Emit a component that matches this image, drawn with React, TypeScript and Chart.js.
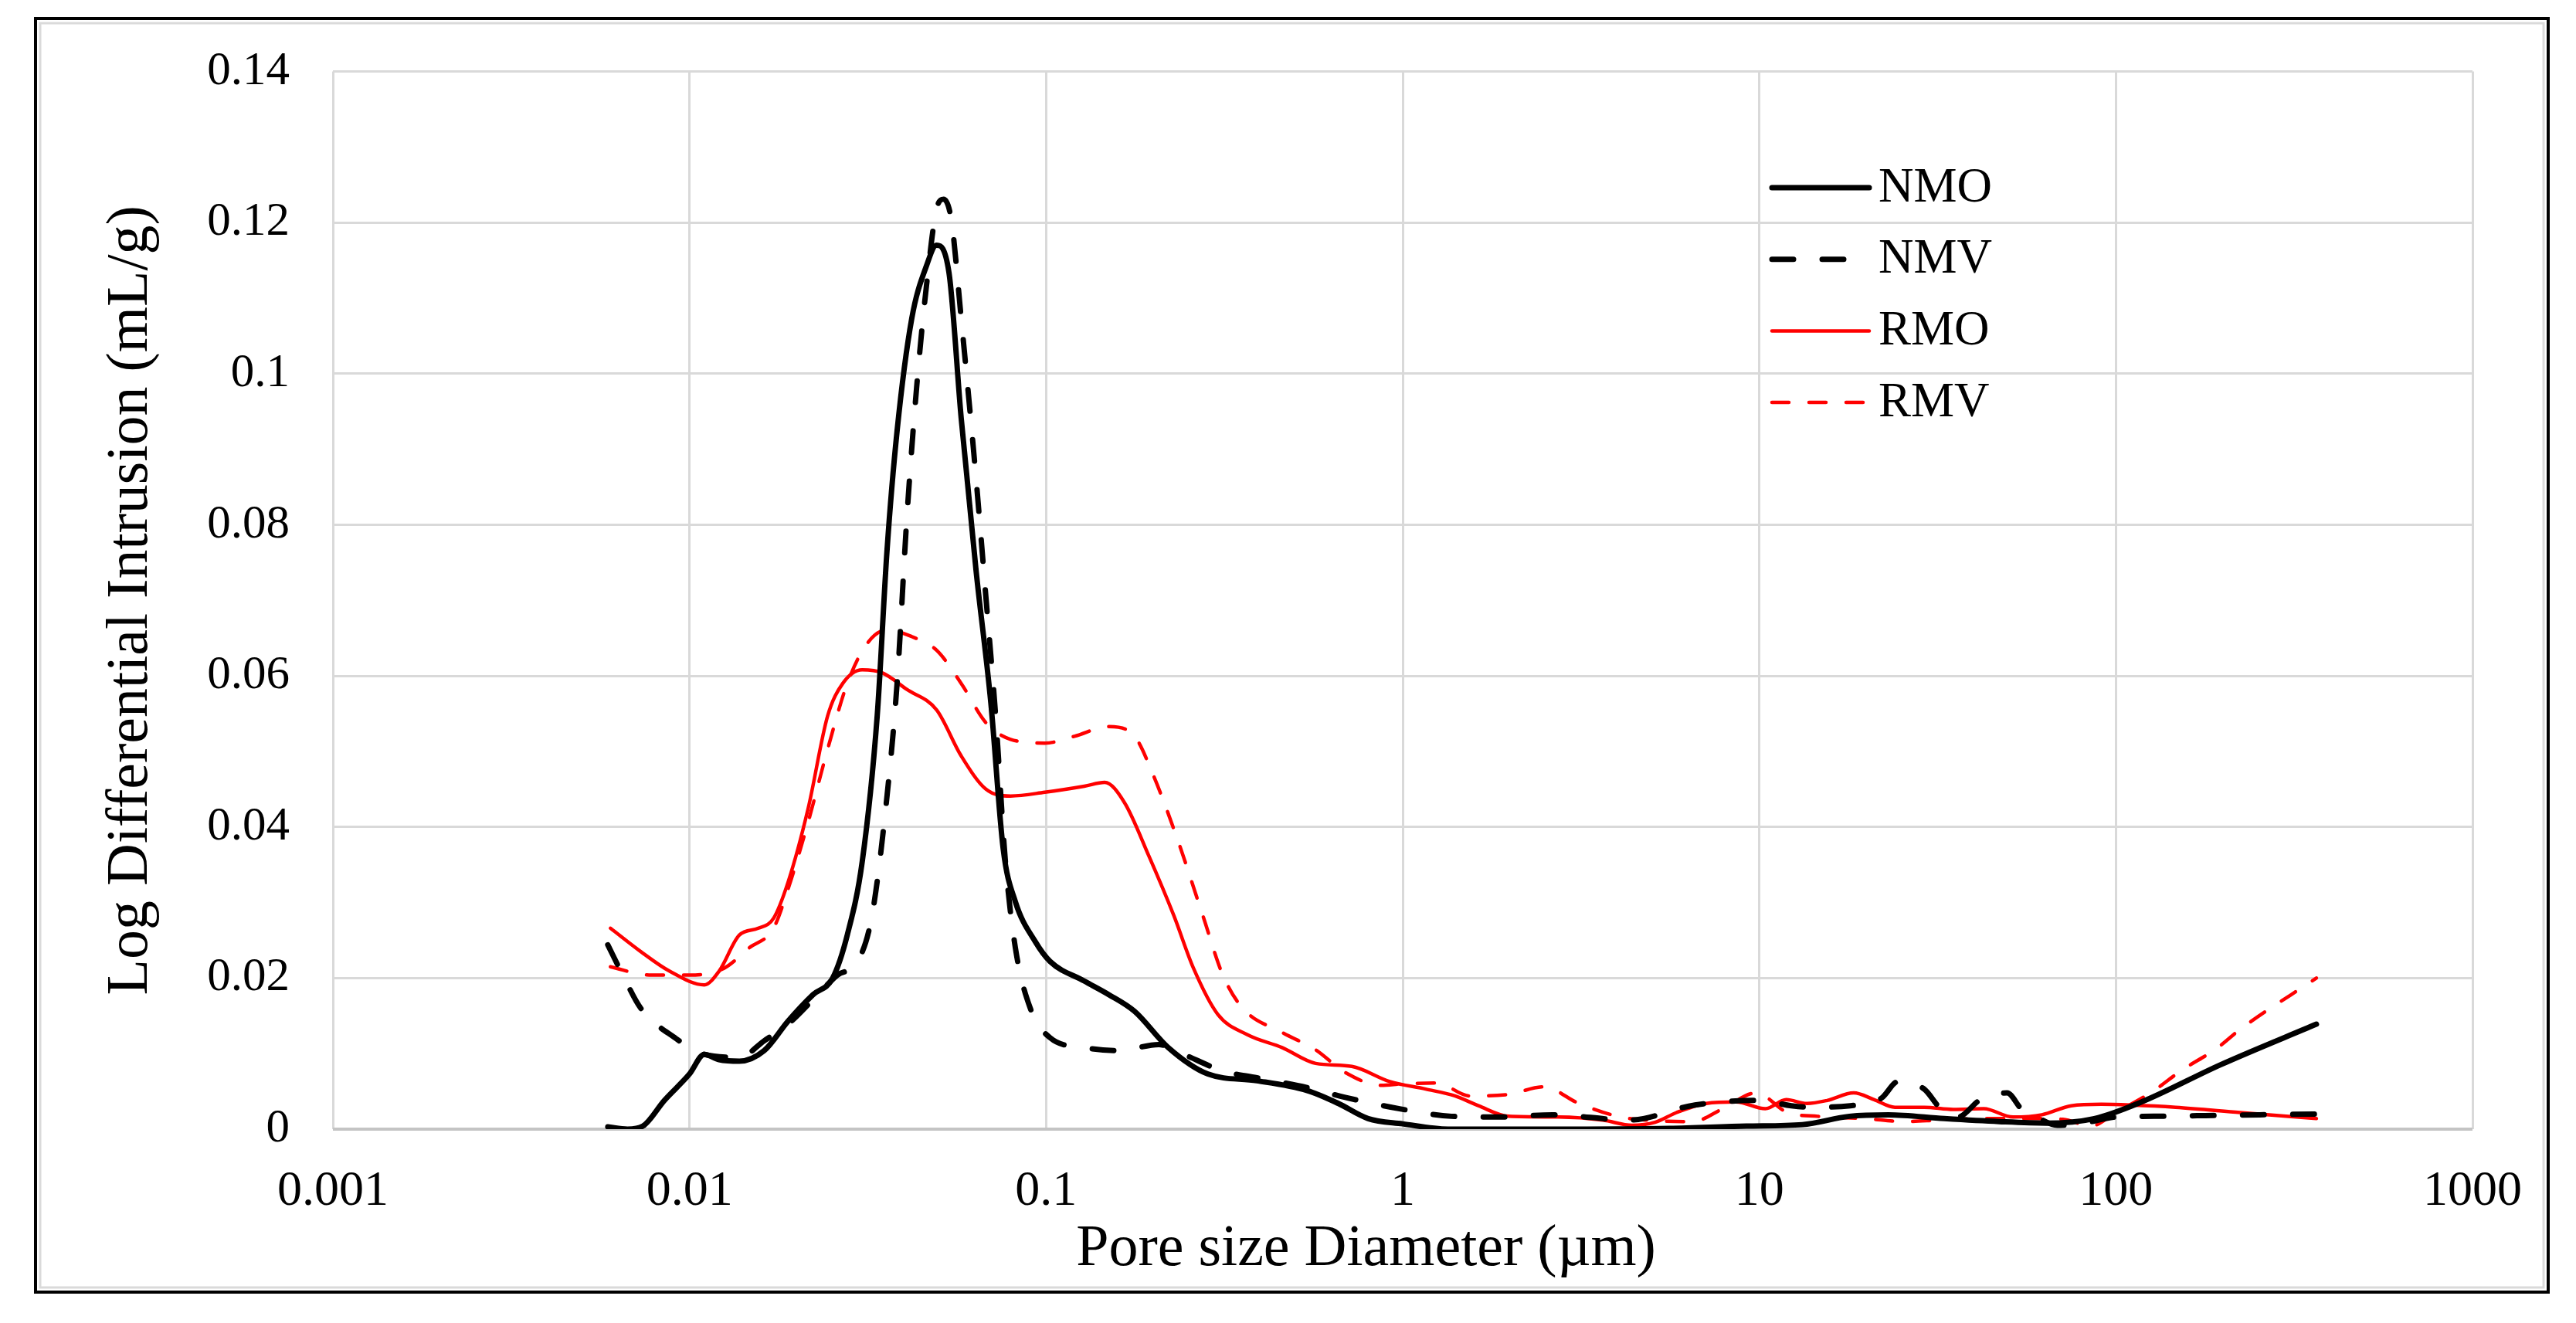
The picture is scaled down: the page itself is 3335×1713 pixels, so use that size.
import { useEffect, useRef } from "react";
import { Chart, registerables } from "chart.js";

Chart.register(...registerables);

// Pore size diameter (µm) and log differential intrusion (mL/g)
const nmoX = [0.0059, 0.0067, 0.0074, 0.0085, 0.01, 0.011, 0.0121, 0.0138, 0.0162, 0.0189, 0.0222, 0.0252, 0.0277, 0.0305, 0.0336, 0.0358, 0.0382, 0.042, 0.0462, 0.0493, 0.0534, 0.0578, 0.0636, 0.07, 0.0758, 0.082, 0.0933, 0.1026, 0.128, 0.15, 0.177, 0.22, 0.284, 0.39, 0.54, 0.66, 0.8, 1.0, 1.34, 2.6, 5.6, 9.2, 13.2, 17.9, 23, 33, 47, 64, 87, 118, 196, 365];
const nmoY = [0.0003, 0.0, 0.0004, 0.0038, 0.0073, 0.0099, 0.0092, 0.009, 0.0104, 0.0143, 0.0178, 0.02, 0.0257, 0.0354, 0.0547, 0.0766, 0.0924, 0.1073, 0.1143, 0.117, 0.1134, 0.0941, 0.074, 0.0564, 0.0371, 0.0301, 0.0248, 0.0222, 0.0196, 0.0178, 0.0156, 0.0108, 0.0073, 0.0064, 0.0051, 0.0034, 0.0014, 0.0007, 0.0, 0.0, 0.0001, 0.0004, 0.0006, 0.0017, 0.0019, 0.0014, 0.001, 0.0008, 0.0014, 0.0036, 0.0085, 0.0139];

const nmvX = [0.0059, 0.0065, 0.0073, 0.0091, 0.011, 0.0138, 0.0162, 0.0189, 0.0229, 0.026, 0.0296, 0.0325, 0.0358, 0.0382, 0.0407, 0.0434, 0.0462, 0.0493, 0.0516, 0.0542, 0.0578, 0.0636, 0.0678, 0.0722, 0.0769, 0.082, 0.0903, 0.1026, 0.128, 0.16, 0.207, 0.243, 0.313, 0.39, 0.54, 0.69, 0.98, 1.37, 1.87, 2.63, 4.3, 6.6, 10, 12.3, 14, 18, 22, 24.5, 29, 32, 36, 41.7, 49.5, 54.5, 60, 68.5, 83, 100, 128, 178, 253, 365];
const nmvY = [0.0244, 0.0204, 0.016, 0.0121, 0.0099, 0.0095, 0.0117, 0.0139, 0.0178, 0.0204, 0.0222, 0.0283, 0.0441, 0.059, 0.081, 0.0985, 0.1117, 0.1218, 0.1231, 0.1204, 0.1073, 0.0862, 0.0704, 0.0547, 0.0354, 0.024, 0.016, 0.0121, 0.0108, 0.0104, 0.0112, 0.0099, 0.0077, 0.0068, 0.0055, 0.0042, 0.0027, 0.0017, 0.0016, 0.0019, 0.0012, 0.0032, 0.0038, 0.0031, 0.0029, 0.0031, 0.0041, 0.0063, 0.0053, 0.0029, 0.0016, 0.0039, 0.0048, 0.0026, 0.0016, 0.0005, 0.0009, 0.0016, 0.0017, 0.0018, 0.0019, 0.002];

const rmoX = [0.006, 0.0073, 0.0088, 0.011, 0.0121, 0.0138, 0.0156, 0.0172, 0.0189, 0.0215, 0.0244, 0.0269, 0.0305, 0.0347, 0.0407, 0.0493, 0.0578, 0.0678, 0.0795, 0.0992, 0.128, 0.146, 0.166, 0.194, 0.228, 0.259, 0.303, 0.367, 0.459, 0.57, 0.72, 0.92, 1.16, 1.4, 1.63, 1.98, 2.73, 3.64, 4.4, 5.1, 5.86, 7.1, 8.6, 10.4, 11.9, 13.6, 15.5, 18.4, 21, 24, 29, 35, 42.6, 51.5, 62, 75, 91, 110, 147, 223, 365];
const rmoY = [0.0266, 0.0235, 0.0209, 0.0191, 0.0209, 0.0257, 0.0266, 0.0279, 0.0327, 0.0424, 0.0547, 0.059, 0.0608, 0.0604, 0.0582, 0.0555, 0.0494, 0.045, 0.0441, 0.0446, 0.0454, 0.0459, 0.0432, 0.0362, 0.0283, 0.0213, 0.0152, 0.0125, 0.0108, 0.0087, 0.0083, 0.0063, 0.0053, 0.0044, 0.0031, 0.0017, 0.0016, 0.0012, 0.0005, 0.0009, 0.0022, 0.0034, 0.0036, 0.0027, 0.0039, 0.0034, 0.0038, 0.0048, 0.0039, 0.0029, 0.0029, 0.0026, 0.0027, 0.0016, 0.0019, 0.0031, 0.0033, 0.0032, 0.0029, 0.0022, 0.0014];

const rmvX = [0.006, 0.0077, 0.01, 0.0125, 0.0147, 0.0172, 0.0189, 0.0215, 0.0244, 0.0277, 0.0315, 0.0358, 0.042, 0.0493, 0.0578, 0.0678, 0.0795, 0.0992, 0.12, 0.15, 0.177, 0.2, 0.235, 0.275, 0.313, 0.356, 0.459, 0.57, 0.69, 0.87, 1.0, 1.25, 1.54, 1.98, 2.48, 3.12, 4.0, 4.8, 6.5, 7.9, 9.8, 12, 14.6, 19.8, 25.6, 32, 42.6, 56.6, 71, 85, 100, 126, 153, 192, 223, 365];
const rmvY = [0.0215, 0.0204, 0.0204, 0.0213, 0.024, 0.0266, 0.0318, 0.0406, 0.0503, 0.059, 0.0643, 0.0661, 0.0652, 0.0634, 0.059, 0.0538, 0.0516, 0.0511, 0.052, 0.0533, 0.052, 0.0468, 0.038, 0.0283, 0.0204, 0.016, 0.0128, 0.0105, 0.0075, 0.0058, 0.006, 0.0061, 0.0044, 0.0046, 0.0056, 0.0034, 0.0017, 0.0012, 0.001, 0.0027, 0.0048, 0.0022, 0.0017, 0.0014, 0.001, 0.0012, 0.0014, 0.0014, 0.0013, 0.0004, 0.0022, 0.0049, 0.0078, 0.0107, 0.0132, 0.02];

const seriesNames = ["NMO", "NMV", "RMO", "RMV"];
const xTickValues = [0.001, 0.01, 0.1, 1, 10, 100, 1000];
const xTickLabels = ["0.001", "0.01", "0.1", "1", "10", "100", "1000"];
const yTickLabels = ["0", "0.02", "0.04", "0.06", "0.08", "0.1", "0.12", "0.14"];

const SERIF = '"Liberation Serif", "Times New Roman", serif';
const W = 3335;
const H = 1713;

const toPoints = (xs: number[], ys: number[]) => xs.map((x, i) => ({ x, y: ys[i] }));

// white background and the outer picture frame
const framePlugin = {
  id: "frame",
  beforeDraw(chart: Chart) {
    const ctx = chart.ctx;
    ctx.save();
    ctx.fillStyle = "#ffffff";
    ctx.fillRect(0, 0, chart.width, chart.height);
    ctx.strokeStyle = "#dadada";
    ctx.lineWidth = 3;
    ctx.strokeRect(52, 30, 3241, 1637);
    ctx.strokeStyle = "#000000";
    ctx.lineWidth = 4;
    ctx.strokeRect(46, 24, 3253, 1649);
    ctx.restore();
  },
};

// legend drawn inside the plot, top right
const legendPlugin = {
  id: "insideLegend",
  afterDatasetsDraw(chart: Chart) {
    const ctx = chart.ctx;
    ctx.save();
    chart.data.datasets.forEach((ds: any, i: number) => {
      const y = 243 + i * 92.7;
      ctx.beginPath();
      ctx.strokeStyle = ds.borderColor;
      ctx.lineWidth = ds.borderWidth;
      ctx.lineCap = "round";
      ctx.setLineDash(ds.borderDash || []);
      ctx.moveTo(2294, y);
      ctx.lineTo(2420, y);
      ctx.stroke();
      ctx.setLineDash([]);
      ctx.fillStyle = "#000000";
      ctx.font = `63px ${SERIF}`;
      ctx.textAlign = "left";
      ctx.textBaseline = "middle";
      ctx.fillText(ds.label, 2432, y + 1);
    });
    ctx.restore();
  },
};

export default function App() {
  const canvasRef = useRef<HTMLCanvasElement>(null);
  const chartRef = useRef<Chart | null>(null);

  useEffect(() => {
    if (!canvasRef.current) return;
    if (chartRef.current) chartRef.current.destroy();

    const lineBase = {
      fill: false,
      pointRadius: 0,
      borderCapStyle: "round" as const,
      borderJoinStyle: "round" as const,
      cubicInterpolationMode: "monotone" as const,
    };

    chartRef.current = new Chart(canvasRef.current, {
      type: "line",
      data: {
        datasets: [
          { ...lineBase, label: seriesNames[0], data: toPoints(nmoX, nmoY), borderColor: "#000000", borderWidth: 7 },
          { ...lineBase, label: seriesNames[1], data: toPoints(nmvX, nmvY), borderColor: "#000000", borderWidth: 7, borderDash: [28, 37] },
          { ...lineBase, label: seriesNames[2], data: toPoints(rmoX, rmoY), borderColor: "#ff0000", borderWidth: 4.5 },
          { ...lineBase, label: seriesNames[3], data: toPoints(rmvX, rmvY), borderColor: "#ff0000", borderWidth: 4.5, borderDash: [22, 26] },
        ],
      },
      options: {
        responsive: false,
        devicePixelRatio: 1,
        animation: false,
        layout: { padding: { left: 80, right: 134, top: 83, bottom: 0 } },
        plugins: {
          legend: { display: false },
          tooltip: { enabled: false },
        },
        scales: {
          x: {
            type: "logarithmic",
            min: 0.001,
            max: 1000,
            afterBuildTicks: (scale: any) => {
              scale.ticks = xTickValues.map((v) => ({ value: v }));
            },
            afterFit: (scale: any) => {
              scale.height = 251;
            },
            border: { display: false },
            grid: { color: "#d9d9d9", lineWidth: 3, drawTicks: false },
            ticks: {
              autoSkip: false,
              maxRotation: 0,
              padding: 43,
              color: "#000000",
              font: { family: SERIF, size: 64 },
              callback: (_v: any, i: number) => xTickLabels[i],
            },
            title: {
              display: true,
              text: "Pore size Diameter (µm)\u00a0\u00a0\u00a0\u00a0\u00a0",
              color: "#000000",
              font: { family: SERIF, size: 76 },
              padding: { top: 0, bottom: 49 },
            },
          },
          y: {
            type: "linear",
            min: 0,
            max: 0.14,
            afterFit: (scale: any) => {
              scale.width = 351;
            },
            border: { display: false },
            grid: {
              color: (c: any) => (c.tick && c.tick.value === 0 ? "#c4c4c4" : "#d9d9d9"),
              lineWidth: (c: any) => (c.tick && c.tick.value === 0 ? 4 : 3),
              drawTicks: false,
            },
            ticks: {
              stepSize: 0.02,
              padding: 56,
              color: "#000000",
              font: { family: SERIF, size: 61 },
              callback: (_v: any, i: number) => yTickLabels[i],
            },
            title: {
              display: true,
              text: "Log Differential Intrusion (mL/g)",
              color: "#000000",
              font: { family: SERIF, size: 76 },
              padding: { top: 44, bottom: 0 },
            },
          },
        },
      },
      plugins: [framePlugin, legendPlugin],
    } as any);

    return () => {
      if (chartRef.current) {
        chartRef.current.destroy();
        chartRef.current = null;
      }
    };
  }, []);

  return (
    <div style={{ position: "absolute", left: 0, top: 0, width: W, height: H, background: "#ffffff" }}>
      <canvas ref={canvasRef} width={W} height={H} style={{ display: "block", width: W, height: H }} />
    </div>
  );
}
